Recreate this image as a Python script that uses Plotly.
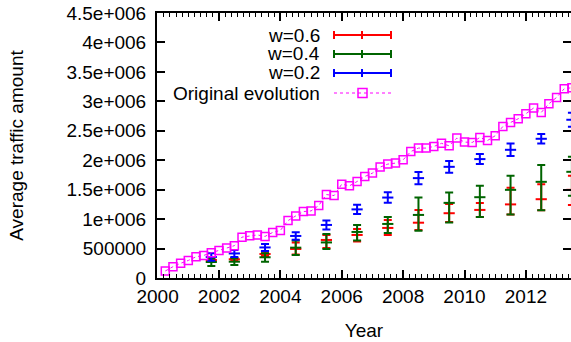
import plotly.graph_objects as go

# ---------------- data ----------------
orig_x = [2000.25 + 0.25 * i for i in range(54)]  # quarterly time stamps
orig_y = [119000, 192000, 250000, 298000, 360000, 383000, 429000, 468000, 510000, 549000,
          694000, 719000, 731000, 706000, 774000, 808000, 975000, 1054000, 1128000, 1139000,
          1230000, 1417000, 1400000, 1594000, 1565000, 1638000, 1723000, 1781000, 1883000, 1934000,
          1951000, 2007000, 2148000, 2206000, 2206000, 2233000, 2287000, 2245000, 2376000, 2308000,
          2301000, 2386000, 2335000, 2415000, 2573000, 2641000, 2704000, 2789000, 2886000, 2811000,
          2959000, 3066000, 3214000, 3231000]

grp_x = [2001.75, 2002.5, 2003.5, 2004.5, 2005.5, 2006.5, 2007.5, 2008.5, 2009.5, 2010.5,
         2011.5, 2012.5, 2013.5]

w06_mean = [306000, 318000, 408000, 493000, 646000, 731000, 850000, 939000, 1100000, 1156000,
            1250000, 1338000, 1497000]
w06_high = [332000, 340000, 447000, 604000, 731000, 833000, 986000, 1156000, 1258000, 1275000,
            1531000, 1594000, 1735000]
w06_low = [272000, 289000, 374000, 400000, 510000, 621000, 731000, 816000, 952000, 1037000,
           1080000, 1151000, 1241000]

w04_mean = [272000, 277000, 352000, 515000, 604000, 782000, 918000, 1071000, 1276000, 1372000,
            1497000, 1633000, 1803000]
w04_high = [332000, 335000, 420000, 638000, 748000, 901000, 1037000, 1366000, 1454000, 1565000,
            1735000, 1917000, 2058000]
w04_low = [204000, 221000, 277000, 391000, 493000, 638000, 765000, 804000, 944000, 1037000,
           1080000, 1151000, 1395000]

w02_mean = [357000, 417000, 519000, 714000, 901000, 1165000, 1366000, 1696000, 1888000, 2019000,
            2177000, 2364000, 2687000]
w02_err = [63000, 60000, 60000, 64000, 77000, 77000, 90000, 105000, 99000, 85000,
           107000, 80000, 119000]

y_tickvals = [0, 500000, 1000000, 1500000, 2000000, 2500000, 3000000, 3500000, 4000000, 4500000]
y_ticktext = ["0", "500000", "1e+006", "1.5e+006", "2e+006", "2.5e+006", "3e+006",
              "3.5e+006", "4e+006", "4.5e+006"]

legend_labels = ["w=0.6", "w=0.4", "w=0.2", "Original evolution"]
RED, GREEN, BLUE, MAG = "#ff0000", "#006400", "#0000ff", "#ff00ff"
legend_colors = [RED, GREEN, BLUE, MAG]

# ---------------- figure ----------------
W, H = 571, 342
PL, PR, PT, PB = 157, 571, 13, 278  # plot area in pixels


def pp(x, y):
    return (x - PL) / (PR - PL), (PB - y) / (PB - PT)


fig = go.Figure()


def err_trace(mean, low, high, color):
    plus = [h - m for h, m in zip(high, mean)]
    minus = [m - l for m, l in zip(mean, low)]
    return go.Scatter(
        x=grp_x, y=mean, mode="markers",
        marker=dict(symbol="line-ew", size=8, color=color, line=dict(width=2, color=color)),
        error_y=dict(type="data", symmetric=False, array=plus, arrayminus=minus,
                     color=color, thickness=2, width=4),
        hoverinfo="skip")


fig.add_trace(err_trace(w06_mean, w06_low, w06_high, RED))
fig.add_trace(err_trace(w04_mean, w04_low, w04_high, GREEN))
fig.add_trace(err_trace(w02_mean,
                        [m - e for m, e in zip(w02_mean, w02_err)],
                        [m + e for m, e in zip(w02_mean, w02_err)], BLUE))
fig.add_trace(go.Scatter(
    x=orig_x, y=orig_y, mode="lines+markers",
    line=dict(color=MAG, width=1, dash="dot"),
    marker=dict(symbol="square-open", size=8, color=MAG, line=dict(width=1.5, color=MAG)),
    hoverinfo="skip"))
# carrier for the right-hand mirrored ticks
fig.add_trace(go.Scatter(x=[2001], y=[0], yaxis="y2", mode="markers",
                         marker=dict(opacity=0), hoverinfo="skip"))

# ---------------- legend (gnuplot style: text left, sample right) ----------------
rows_y = [35, 54, 73, 93]
shapes = []
annotations = []
for lab, col, ry in zip(legend_labels, legend_colors, rows_y):
    tx, ty = pp(322, ry)
    annotations.append(dict(text=lab, x=tx, y=ty, xref="paper", yref="paper",
                            xanchor="right", yanchor="middle", showarrow=False,
                            font=dict(size=19, color="black")))
    x0, _ = pp(334, ry)
    x1, _ = pp(391, ry)
    xc, _ = pp(362, ry)
    if col != MAG:
        shapes.append(dict(type="line", xref="paper", yref="paper", x0=x0, x1=x1, y0=ty, y1=ty,
                           line=dict(color=col, width=2)))
        for xx in (x0, x1, xc):
            _, ya = pp(0, ry - 4)
            _, yb = pp(0, ry + 4)
            shapes.append(dict(type="line", xref="paper", yref="paper", x0=xx, x1=xx, y0=ya, y1=yb,
                               line=dict(color=col, width=2)))
    else:
        shapes.append(dict(type="line", xref="paper", yref="paper", x0=x0, x1=x1, y0=ty, y1=ty,
                           line=dict(color=col, width=1, dash="dot")))
        sx0, sy0 = pp(358, ry - 4.5)
        sx1, sy1 = pp(367, ry + 4.5)
        shapes.append(dict(type="rect", xref="paper", yref="paper", x0=sx0, x1=sx1, y0=sy0, y1=sy1,
                           line=dict(color=col, width=1.5), fillcolor="rgba(0,0,0,0)"))

fig.update_layout(
    width=W, height=H,
    margin=dict(l=PL, r=W - PR, t=PT, b=H - PB),
    plot_bgcolor="white", paper_bgcolor="white",
    showlegend=False,
    font=dict(family="Liberation Sans, Arial, sans-serif", size=19, color="black"),
    shapes=shapes, annotations=annotations,
    xaxis=dict(
        range=[1999.98, 2013.47], tick0=2000, dtick=2,
        ticks="inside", ticklen=8, tickwidth=1.5, tickcolor="black",
        showline=True, linewidth=2, linecolor="black", mirror="ticks",
        showgrid=False, zeroline=False,
        minor=dict(tick0=2000, dtick=0.2, ticks="inside", ticklen=4, tickwidth=1,
                   tickcolor="black", showgrid=False),
        tickfont=dict(size=19),
        title=dict(text="Year", standoff=18, font=dict(size=19)),
    ),
    yaxis=dict(
        range=[0, 4500000], tickmode="array", tickvals=y_tickvals, ticktext=y_ticktext,
        ticks="inside", ticklen=8, tickwidth=1.5, tickcolor="black",
        showline=True, linewidth=2, linecolor="black", mirror=False,
        showgrid=False, zeroline=False, ticklabelstandoff=5,
        tickfont=dict(size=19),
        title=dict(text="Average traffic amount", standoff=38, font=dict(size=19)),
    ),
    yaxis2=dict(
        overlaying="y", side="right", range=[0, 4500000], tickmode="array",
        tickvals=y_tickvals, showticklabels=False,
        ticks="inside", ticklen=8, tickwidth=1.5, tickcolor="black",
        showline=False, showgrid=False, zeroline=False,
    ),
)

fig.write_html("out.html")
